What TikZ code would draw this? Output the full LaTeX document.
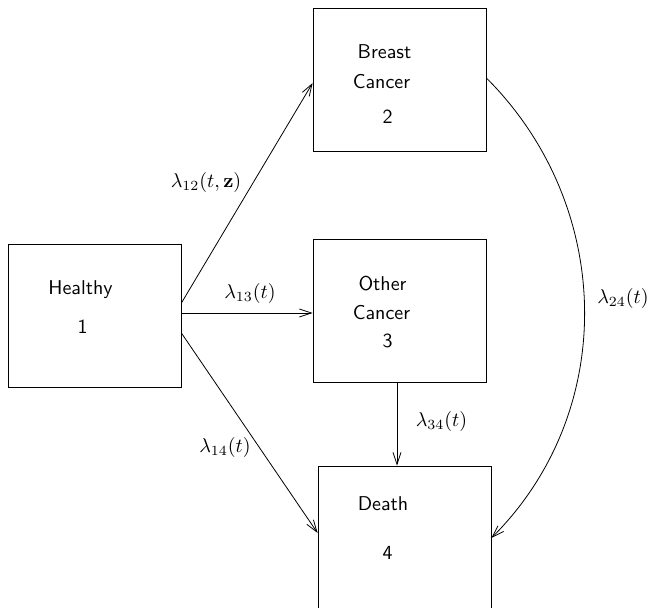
\documentclass[tikz,border=0pt]{standalone}
\usepackage{amsmath,amssymb}
\usetikzlibrary{calc,arrows.meta}

\begin{document}
\begin{tikzpicture}[x=0.5pt,y=0.5pt,
  state/.style={draw, rectangle, minimum width=86.5pt, minimum height=71.5pt, inner sep=0pt},
  txt/.style={font=\sffamily, anchor=base},
  trans/.style={-{Straight Barb[length=6pt,width=4pt]}}]
  % Fix the size of the page
  \useasboundingbox (0,0) rectangle (651,607);

  % Draw the four states
  \node[state] (healthy) at (94.5,291.5) {};
  \node[state] (breast) at (399.5,527.5) {};
  \node[state] (other) at (399.5,296.5) {};
  \node[state] (death) at (404.5,69.5) {};

  % Texts inside the states
  \node[txt] (healthyname) at (80.5,313) {Healthy};
  \node[txt] (healthynum) at (82.5,274) {1};
  \node[txt] (breastname) at (384.5,549) {Breast};
  \node[txt] (breastname2) at (381.5,519) {Cancer};
  \node[txt] (breastnum) at (387.5,484) {2};
  \node[txt] (othername) at (382.5,317) {Other};
  \node[txt] (othername2) at (381.5,288) {Cancer};
  \node[txt] (othernum) at (387.5,260) {3};
  \node[txt] (deathname) at (383,97) {Death};
  \node[txt] (deathnum) at (387.5,48) {4};

  % End points of the transitions
  \coordinate (h2) at ($(healthy.east)+(0,12.5)$);
  \coordinate (h3) at ($(healthy.east)+(0,2.5)$);
  \coordinate (h4) at ($(healthy.east)+(0,-17.5)$);
  \coordinate (b2in) at ($(breast.west)+(0,-3.5)$);
  \coordinate (b2out) at ($(breast.east)+(0,1.5)$);
  \coordinate (o3in) at (other.west |- h3);
  \coordinate (o3out) at ($(other.south)+(-2.5,0)$);
  \coordinate (d4top) at (o3out |- death.north);
  \coordinate (d4left) at ($(death.west)+(0,4.5)$);
  \coordinate (d4right) at ($(death.east)+(0,-0.5)$);

  % Draw the transitions
  \draw[trans] (h2) -- (b2in);
  \draw[trans] (h3) -- (o3in);
  \draw[trans] (h4) -- (d4left);
  \draw[trans] (o3out) -- (d4top);
  \draw[trans] (b2out) to[out=-45,in=45] (d4right);

  % Label the intensities
  \node (l12) at (206,425) {$\lambda_{12}(t,\mathbf{z})$};
  \node (l13) at (250,314) {$\lambda_{13}(t)$};
  \node (l14) at (225,160) {$\lambda_{14}(t)$};
  \node (l34) at (441.5,186) {$\lambda_{34}(t)$};
  \node (l24) at (623,309) {$\lambda_{24}(t)$};

\end{tikzpicture}
\end{document}
